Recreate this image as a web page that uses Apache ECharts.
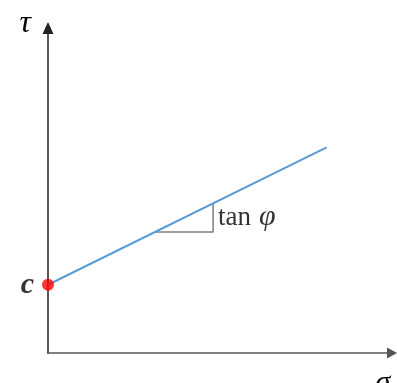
<!DOCTYPE html>
<html>
<head>
<meta charset="utf-8">
<script src="https://cdn.jsdelivr.net/npm/echarts@6/dist/echarts.min.js"></script>
<style>
  html, body { margin: 0; padding: 0; background: #fff; }
  #chart { width: 397px; height: 383px; }
</style>
</head>
<body>
<div id="chart"></div>
<script>
// Mohr–Coulomb failure envelope: tau = c + sigma * tan(phi)
const cohesion = 2.1;                       // intercept c on the tau axis
const envelope = [[0, 2.1], [8.1, 6.33]];   // failure line (sigma, tau)
const slopeTriangle = [[3.1, 3.72], [4.8, 3.72], [4.8, 4.61]]; // run / rise marker
const slopeLabelAt = [4.8, 4.17];           // middle of the rise leg
const slopeFn = 'tan';
const slopeAngle = '\u03C6';
const axisNames = { x: '\u03C3', y: '\u03C4' };
const interceptName = 'c';

const chart = echarts.init(document.getElementById('chart'), null, { renderer: 'canvas' });

const mathFont = '"Liberation Serif", "DejaVu Serif", serif';

chart.setOption({
  animation: false,
  backgroundColor: '#ffffff',
  grid: { left: 48, top: 28, right: 5, bottom: 30, outerBoundsMode: 'none', containLabel: false },
  xAxis: {
    type: 'value', min: 0, max: 10,
    name: axisNames.x,
    nameLocation: 'end',
    nameGap: -9,
    nameTextStyle: {
      fontFamily: mathFont, fontStyle: 'italic', fontSize: 30, color: '#000',
      align: 'center', verticalAlign: 'top', padding: [15, 0, 0, 0]
    },
    axisLine: {
      show: true, onZero: false,
      symbol: ['none', 'triangle'], symbolSize: [11, 10],
      lineStyle: { color: '#555555', width: 1.5 }
    },
    axisTick: { show: false }, axisLabel: { show: false }, splitLine: { show: false }
  },
  yAxis: {
    type: 'value', min: 0, max: 10,
    name: axisNames.y,
    nameLocation: 'end',
    nameGap: 4,
    nameTextStyle: {
      fontFamily: mathFont, fontStyle: 'italic', fontSize: 32, color: '#000',
      align: 'right', verticalAlign: 'middle', padding: [0, 17, 0, 0]
    },
    axisLine: {
      show: true, onZero: false,
      symbol: ['none', 'triangle'], symbolSize: [11, 12],
      lineStyle: { color: '#222222', width: 1.5 }
    },
    axisTick: { show: false }, axisLabel: { show: false }, splitLine: { show: false }
  },
  series: [
    {
      type: 'line',
      data: envelope,
      showSymbol: false,
      lineStyle: { color: '#5B9BD5', width: 2 },
      z: 3
    },
    {
      type: 'line',
      data: slopeTriangle,
      showSymbol: false,
      lineStyle: { color: '#7F7F7F', width: 1.5 },
      z: 2
    },
    {
      type: 'scatter',
      data: [slopeLabelAt],
      symbolSize: 0,
      label: {
        show: true, position: 'right', distance: 5,
        formatter: '{f|' + slopeFn + '}{a|' + slopeAngle + '}',
        rich: {
          f: { fontFamily: mathFont, fontSize: 27, color: '#000' },
          a: { fontFamily: mathFont, fontStyle: 'italic', fontSize: 30, color: '#000', padding: [0, 0, 0, 8] }
        }
      },
      z: 4
    },
    {
      type: 'scatter',
      data: [[0, cohesion]],
      symbolSize: 12,
      itemStyle: { color: '#FF0000' },
      label: {
        show: true, position: 'left', distance: 8,
        formatter: interceptName,
        fontFamily: mathFont, fontStyle: 'italic', fontWeight: 'bold', fontSize: 30, color: '#000'
      },
      clip: false,
      z: 5
    }
  ]
});
</script>
</body>
</html>
